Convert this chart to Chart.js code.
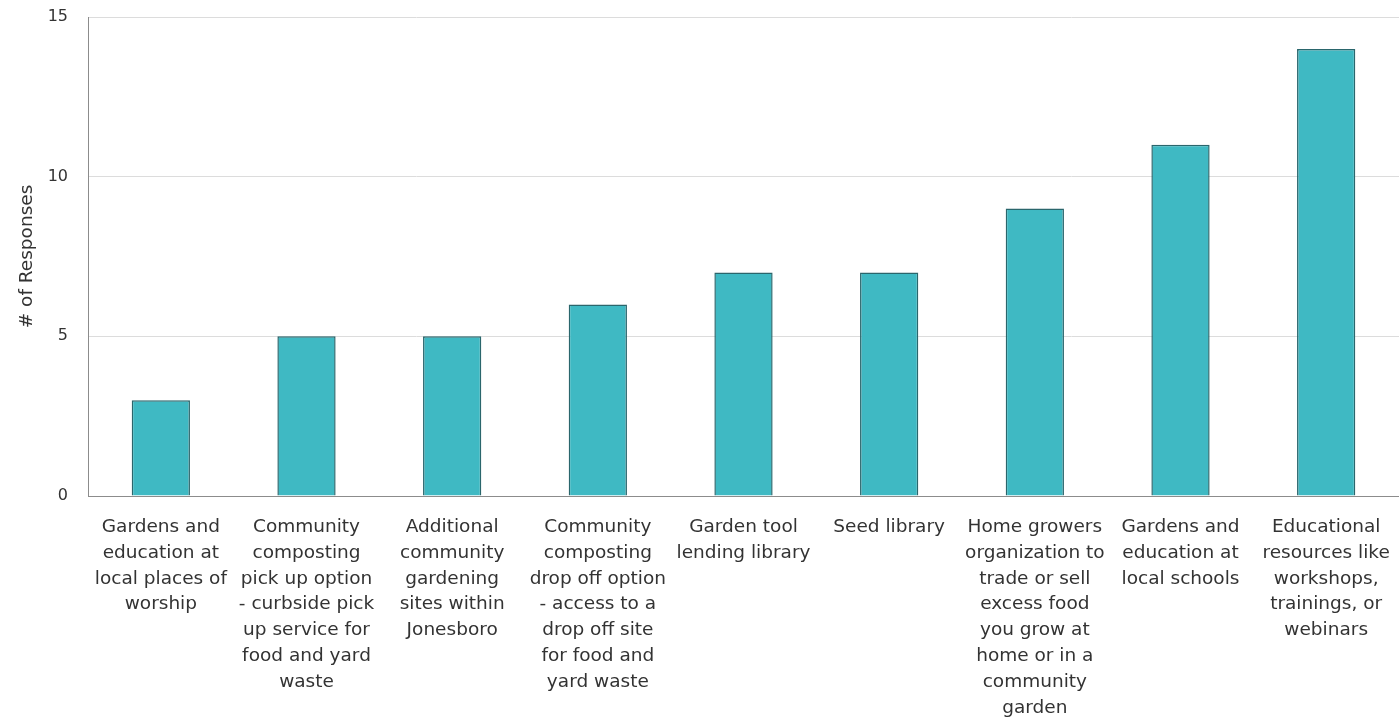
<!DOCTYPE html>
<html>
<head>
<meta charset="utf-8">
<script src="https://cdn.jsdelivr.net/npm/chart.js@4"></script>
<style>
  html, body { margin: 0; padding: 0; background: #fff; }
  #wrap { width: 1399px; height: 722px; }
</style>
</head>
<body>
<div id="wrap"><canvas id="chart"></canvas></div>
<script>
const categories = [
  ["Gardens and", "education at", "local places of", "worship"],
  ["Community", "composting", "pick up option", "- curbside pick", "up service for", "food and yard", "waste"],
  ["Additional", "community", "gardening", "sites within", "Jonesboro"],
  ["Community", "composting", "drop off option", "- access to a", "drop off site", "for food and", "yard waste"],
  ["Garden tool", "lending library"],
  ["Seed library"],
  ["Home growers", "organization to", "trade or sell", "excess food", "you grow at", "home or in a", "community", "garden"],
  ["Gardens and", "education at", "local schools"],
  ["Educational", "resources like", "workshops,", "trainings, or", "webinars"]
];
const responses = [3, 5, 5, 6, 7, 7, 9, 11, 14];
const yTicks = [0, 5, 10, 15];

const FONT = "'DejaVu Sans', Verdana, sans-serif";
const ctx = document.getElementById("chart").getContext("2d");

const chart = new Chart(ctx, {
  type: "bar",
  data: {
    labels: categories,
    datasets: [{
      label: "# of Responses",
      data: responses,
      backgroundColor: "#3fb9c3",
      borderColor: "#2a666c",
      borderWidth: 1.5,
      barPercentage: 0.4,
      categoryPercentage: 1.0
    }]
  },
  options: {
    responsive: true,
    maintainAspectRatio: false,
    animation: false,
    layout: { padding: 0 },
    plugins: {
      legend: { display: false },
      tooltip: { enabled: false }
    },
    scales: {
      x: {
        grid: { display: false, drawTicks: false },
        border: { color: "#8c8c8c", width: 1 },
        ticks: {
          autoSkip: false,
          maxRotation: 0,
          minRotation: 0,
          padding: 18,
          color: "#333",
          font: { family: FONT, size: 18.5, lineHeight: 1.4 }
        },
        afterFit: (s) => {
          s.height = 226;
          s.paddingLeft = 0;
          s.paddingRight = 0;
        }
      },
      y: {
        min: 0,
        max: 15,
        afterBuildTicks: (s) => { s.ticks = yTicks.map(v => ({ value: v })); },
        grid: { color: "#dcdcdc", drawTicks: false },
        border: { color: "#8c8c8c", width: 1 },
        ticks: {
          padding: 20,
          color: "#333",
          font: { family: FONT, size: 16 }
        },
        title: {
          display: true,
          text: "# of Responses",
          color: "#333",
          padding: { top: 16, bottom: 0 },
          font: { family: FONT, size: 18.5 }
        },
        afterFit: (s) => {
          s.width = 88;
          s.paddingTop = 17;
          s.paddingBottom = 0;
        }
      }
    }
  }
});
</script>
</body>
</html>
